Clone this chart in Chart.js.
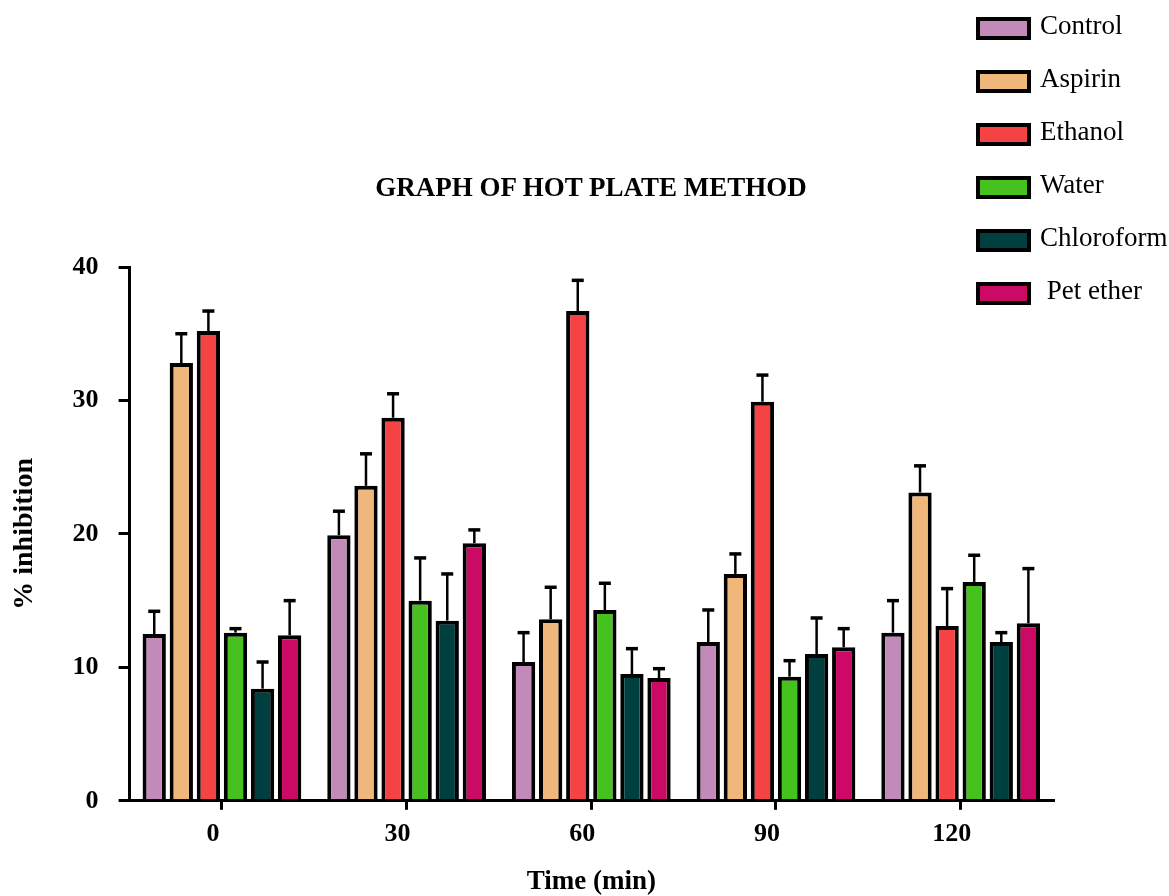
<!DOCTYPE html>
<html>
<head>
<meta charset="utf-8">
<script src="https://cdn.jsdelivr.net/npm/chart.js@4"></script>
<style>
  body { margin: 0; background: #fff; }
  #wrap { position: relative; width: 1169px; height: 896px; }
  #title { position: absolute; left: 291px; width: 600px; top: 171px; text-align: center; white-space: nowrap;
           font-family: "Liberation Serif", serif; font-weight: bold; font-size: 27px; line-height: 32px; color: #000; }
  #legend { position: absolute; left: 976px; top: 9px; font-family: "Liberation Serif", serif; font-size: 27px; color: #000; }
  .item { display: flex; align-items: center; height: 32px; margin-bottom: 21px; }
  .box { width: 47px; height: 15px; border: 4px solid #000; margin-right: 9px; margin-top: 7px; }
</style>
</head>
<body>
<div id="wrap">
  <canvas id="chart" width="1169" height="896"></canvas>
  <div id="title">GRAPH OF HOT PLATE METHOD</div>
  <div id="legend"></div>
</div>
<script>
const times = ["0", "30", "60", "90", "120"];
const groups = ["Control", "Aspirin", "Ethanol", "Water", "Chloroform", " Pet ether"];
const colors = ["#c28ab8", "#f0b77b", "#f54242", "#46c21f", "#003f3f", "#cc0a66"];

// mean % inhibition per group, at each time point
const control    = [12.5, 19.9, 10.4, 11.9, 12.6];
const aspirin    = [32.8, 23.6, 13.6, 17.0, 23.1];
const ethanol    = [35.2, 28.7, 36.7, 29.9, 13.1];
const water      = [12.6, 15.0, 14.3, 9.3, 16.4];
const chloroform = [8.4, 13.5, 9.5, 11.0, 11.9];
const petEther   = [12.4, 19.3, 9.2, 11.5, 13.3];

// error (upper bar only)
const controlErr    = [1.7, 1.8, 2.2, 2.4, 2.4];
const aspirinErr    = [2.2, 2.4, 2.4, 1.5, 2.0];
const ethanolErr    = [1.5, 1.8, 2.3, 2.0, 2.8];
const waterErr      = [0.3, 3.2, 2.0, 1.2, 2.0];
const chloroformErr = [2.0, 3.5, 1.9, 2.7, 0.7];
const petEtherErr   = [2.6, 1.0, 0.7, 1.4, 4.1];

const values = [control, aspirin, ethanol, water, chloroform, petEther];
const errors = [controlErr, aspirinErr, ethanolErr, waterErr, chloroformErr, petEtherErr];

const serif = "'Liberation Serif', 'Times New Roman', serif";

const errorBars = {
  id: "errorBars",
  afterDatasetsDraw(chart) {
    const ctx = chart.ctx;
    const y = chart.scales.y;
    ctx.save();
    ctx.strokeStyle = "#000";
    chart.data.datasets.forEach((ds, i) => {
      chart.getDatasetMeta(i).data.forEach((bar, j) => {
        const top = y.getPixelForValue(ds.data[j] + ds.err[j]);
        ctx.lineWidth = 2.5;
        ctx.beginPath();
        ctx.moveTo(bar.x, bar.y);
        ctx.lineTo(bar.x, top);
        ctx.stroke();
        ctx.lineWidth = 3.5;
        ctx.beginPath();
        ctx.moveTo(bar.x - 6, top);
        ctx.lineTo(bar.x + 6, top);
        ctx.stroke();
      });
    });
    ctx.restore();
  }
};

new Chart(document.getElementById("chart"), {
  type: "bar",
  data: {
    labels: times,
    datasets: groups.map((g, i) => ({
      label: g,
      data: values[i],
      err: errors[i],
      backgroundColor: colors[i],
      borderColor: "#000",
      borderWidth: 4,
      categoryPercentage: 0.88,
      barPercentage: 0.86
    }))
  },
  options: {
    responsive: false,
    devicePixelRatio: 1,
    animation: false,
    layout: { padding: { top: 267, left: 8, right: 116, bottom: 0 } },
    plugins: {
      legend: { display: false },
      tooltip: { enabled: false },
      title: { display: false }
    },
    scales: {
      x: {
        grid: { display: true, drawOnChartArea: false, offset: false, color: "#000", lineWidth: 3, tickLength: 9 },
        border: { color: "#000", width: 3 },
        ticks: { color: "#000", font: { family: serif, size: 26, weight: "bold" }, padding: 9, labelOffset: -9 },
        title: { display: true, text: "Time (min)", color: "#000", font: { family: serif, size: 27, weight: "bold", lineHeight: 1 }, padding: { top: 10, bottom: 0 } }
      },
      y: {
        min: 0,
        max: 40,
        ticks: { stepSize: 10, color: "#000", font: { family: serif, size: 26, weight: "bold" }, padding: 20 },
        grid: { display: true, drawOnChartArea: false, color: "#000", lineWidth: 3, tickLength: 11 },
        border: { color: "#000", width: 3 },
        title: { display: true, text: "% inhibition", color: "#000", font: { family: serif, size: 28, weight: "bold" }, padding: { top: 0, bottom: 11 } }
      }
    }
  },
  plugins: [errorBars]
});

const legend = document.getElementById("legend");
groups.forEach((g, i) => {
  const item = document.createElement("div");
  item.className = "item";
  const box = document.createElement("span");
  box.className = "box";
  box.style.background = colors[i];
  const txt = document.createElement("span");
  txt.textContent = g;
  txt.style.whiteSpace = "pre";
  item.appendChild(box);
  item.appendChild(txt);
  legend.appendChild(item);
});
</script>
</body>
</html>
